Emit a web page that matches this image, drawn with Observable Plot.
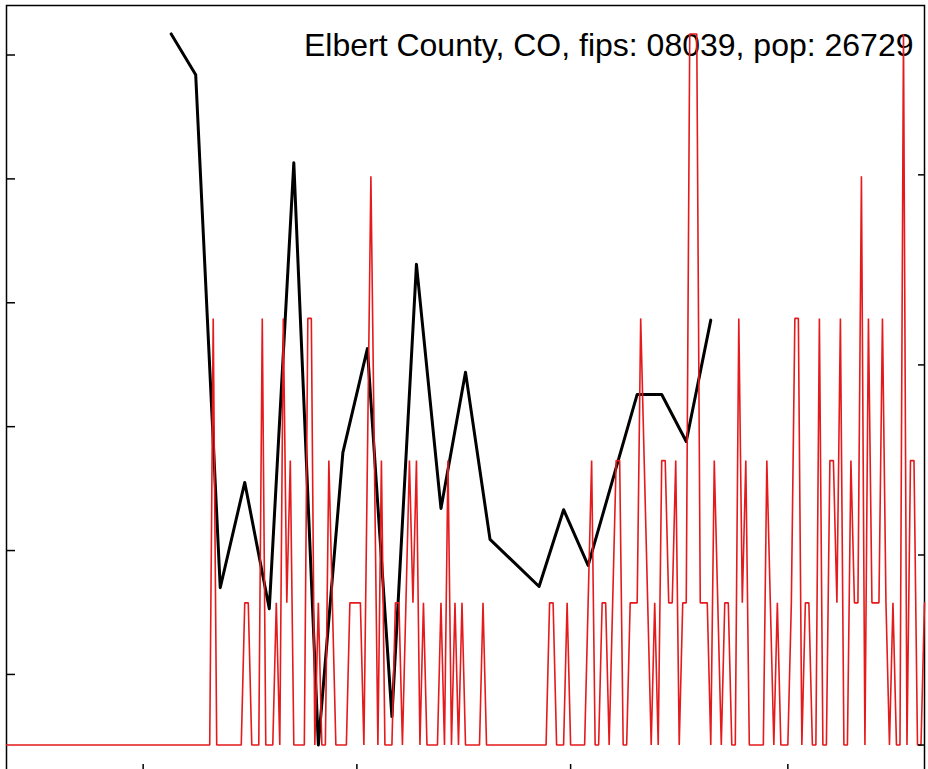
<!DOCTYPE html>
<html>
<head>
<meta charset="utf-8">
<script src="https://cdn.jsdelivr.net/npm/d3@7"></script>
<script src="https://cdn.jsdelivr.net/npm/@observablehq/plot@0.6"></script>
<style>
  html, body { margin: 0; padding: 0; background: #fff; overflow: hidden; }
  #chart svg { display: block; }
</style>
</head>
<body>
<div id="chart"></div>
<script>
// ---- data ----
const countyLabel = "Elbert County, CO, fips: 08039, pop: 26729";
const population = 26729;

// daily counts (red), one value per day starting at dailyStart
const dailyStart = "2020-01-22";
const dailyCounts = [
  0,0,0,0,0,0,0,0,0,0,
  0,0,0,0,0,0,0,0,0,0,
  0,0,0,0,0,0,0,0,0,0,
  0,0,0,0,0,0,0,0,0,0,
  0,0,0,0,0,0,0,0,0,0,
  0,0,0,0,0,0,0,0,0,3,
  0,0,0,0,0,0,0,0,1,1,
  0,0,0,3,0,0,0,1,0,3,
  1,2,0,0,0,0,3,3,0,1,
  0,0,2,1,0,0,0,0,1,1,
  1,1,0,2,4,2,0,2,0,0,
  0,1,1,0,1,2,1,2,0,1,
  0,0,0,0,1,0,2,0,1,0,
  1,0,0,0,0,0,1,0,0,0,
  0,0,0,0,0,0,0,0,0,0,
  0,0,0,0,0,1,1,0,0,0,
  1,0,0,0,0,0,1,2,0,0,
  1,1,0,1,2,2,0,0,1,1,
  1,3,2,1,0,1,0,2,2,1,
  1,2,0,1,1,5,5,5,1,1,
  1,0,2,1,0,1,1,0,0,3,
  1,2,0,0,0,0,0,2,1,0,
  1,0,0,0,1,3,3,0,1,1,
  0,0,3,0,0,2,2,1,3,0,
  0,2,1,1,4,0,3,1,1,1,
  3,1,0,1,0,0,5,0,2,2,
  0,0,1
];

// weekly series (black), one value per week starting at weeklyStart
const weeklyStart = "2020-03-09";
const weeklyValues = [61.7, 58.4, 17.0, 25.5, 15.3, 51.3, 4.3, 27.9, 36.3, 6.6, 43.1, 23.4,
                      34.4, 20.9, 19.0, 17.1, 23.3, 18.8, 25.7, 32.6, 32.6, 28.8, 38.6];

// axis ticks
const leftTicks = [10, 20, 30, 40, 50, 60];      // black series units
const rightTicks = [0, 5, 10, 15];               // red series, per 100k
const xTickDates = ["2020-03-01", "2020-05-01", "2020-07-01", "2020-09-01"];

// ---- build tables ----
const per100k = 1e5 / population;
const t0 = new Date(dailyStart + "T00:00:00Z");
const w0 = new Date(weeklyStart + "T00:00:00Z");
const daily = dailyCounts.map((c, i) => ({date: d3.utcDay.offset(t0, i), rate: c * per100k}));
const dMax = d3.max(dailyCounts);
const [bMin, bMax] = d3.extent(weeklyValues);
// black series plotted on its own range: min -> bottom of red range, max -> top
const blackToY = v => (v - bMin) / (bMax - bMin) * dMax * per100k;
const weekly = weeklyValues.map((v, i) => ({date: d3.utcWeek.offset(w0, i), y: blackToY(v)}));
const xDomain = [daily[0].date, daily[daily.length - 1].date];
const pad = 0.04 * dMax * per100k;
const yDomain = [-pad, dMax * per100k + pad];

const chart = Plot.plot({
  width: 928,
  height: 769,
  marginTop: 5,
  marginBottom: -4,
  marginLeft: 6,
  marginRight: 4,
  style: {fontFamily: "'Liberation Sans', Arial, Helvetica, sans-serif", background: "#fff"},
  x: {type: "utc", domain: xDomain},
  y: {domain: yDomain},
  marks: [
    Plot.frame({stroke: "#000", strokeWidth: 1.5}),
    Plot.text([countyLabel], {
      frameAnchor: "top-right", dx: -11, dy: 27.5, textAnchor: "end", lineAnchor: "top",
      fontSize: 32, fill: "#000"
    }),
    Plot.line(weekly, {x: "date", y: "y", stroke: "#000", strokeWidth: 3, strokeLinejoin: "round"}),
    Plot.line(daily, {x: "date", y: "rate", stroke: "#e41a1c", strokeWidth: 1.6, strokeLinejoin: "miter"}),
    Plot.axisY(leftTicks.map(blackToY), {anchor: "left", tickSize: -9, strokeWidth: 1.5, tickFormat: () => "", label: null}),
    Plot.axisY(rightTicks, {anchor: "right", tickSize: -7, strokeWidth: 1.5, tickFormat: () => "", label: null}),
    Plot.axisX(xTickDates.map(s => new Date(s + "T00:00:00Z")), {anchor: "bottom", tickSize: -9, strokeWidth: 1.5, tickFormat: () => "", label: null})
  ]
});
document.getElementById("chart").appendChild(chart);
</script>
</body>
</html>
